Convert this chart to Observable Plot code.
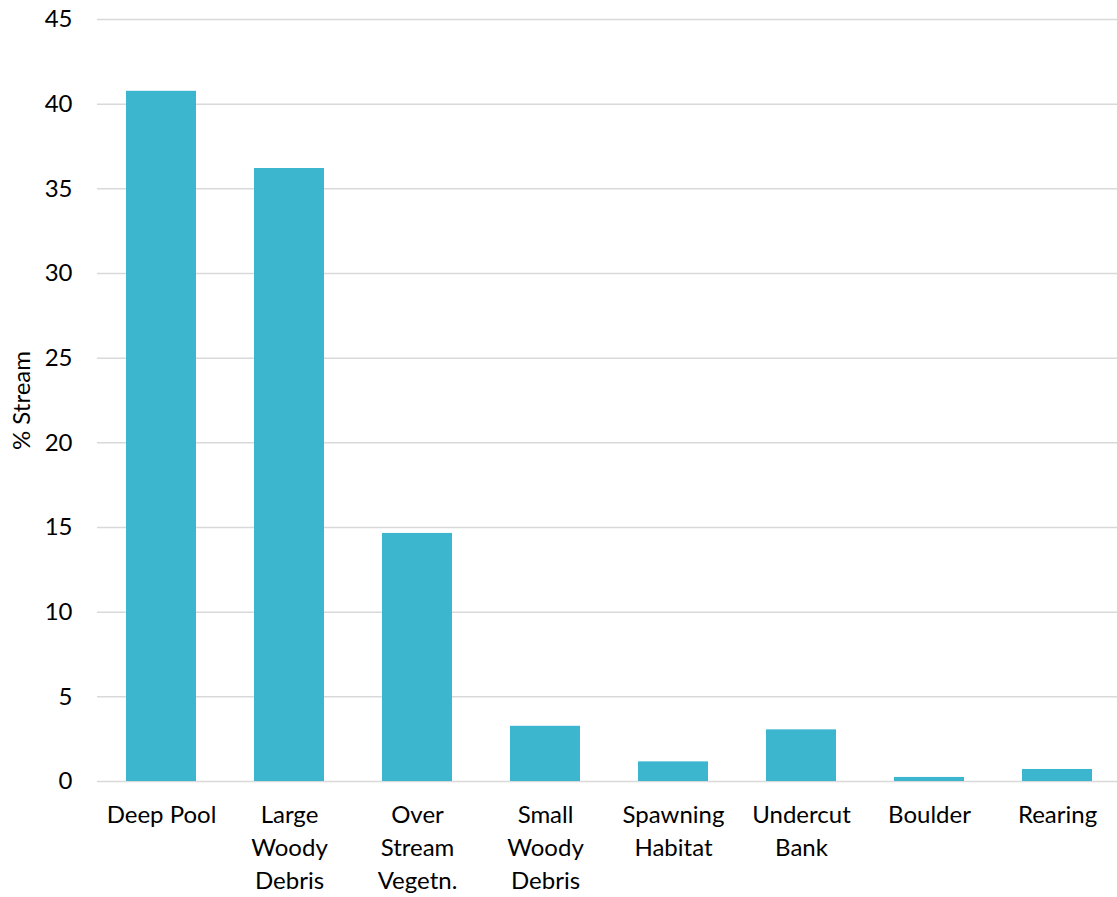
<!DOCTYPE html>
<html>
<head>
<meta charset="utf-8">
<script src="https://cdn.jsdelivr.net/npm/d3@7"></script>
<script src="https://cdn.jsdelivr.net/npm/@observablehq/plot@0.6"></script>
<style>
  html, body { margin: 0; padding: 0; background: #fff; overflow: hidden; }
  #chart svg { display: block; }
</style>
</head>
<body>
<div id="chart"></div>
<script>
const categories = ["Deep Pool", "Large Woody Debris", "Over Stream Vegetn.", "Small Woody Debris", "Spawning Habitat", "Undercut Bank", "Boulder", "Rearing"];
const tickLabels = ["Deep Pool", "Large\nWoody\nDebris", "Over\nStream\nVegetn.", "Small\nWoody\nDebris", "Spawning\nHabitat", "Undercut\nBank", "Boulder", "Rearing"];
const values = [40.76, 36.2, 14.65, 3.26, 1.16, 3.05, 0.24, 0.71];
const yTicks = [0, 5, 10, 15, 20, 25, 30, 35, 40, 45];

const data = categories.map((c, i) => ({category: c, value: values[i]}));
const labelOf = new Map(categories.map((c, i) => [c, tickLabels[i]]));

const chart = Plot.plot({
  width: 1117,
  height: 897,
  marginLeft: 97,
  marginRight: -4,
  marginTop: 19,
  marginBottom: 116,
  style: {fontFamily: "Lato, 'Open Sans', sans-serif", fontSize: "24px", color: "#000", background: "#fff", overflow: "hidden"},
  x: {domain: categories, paddingInner: 0.45, paddingOuter: 0.225, label: null},
  y: {domain: [0, 45], label: null},
  marks: [
    Plot.gridY(yTicks, {stroke: "#d9d9d9", strokeOpacity: 1, strokeWidth: 1.5}),
    Plot.barY(data, {x: "category", y: "value", fill: "#3cb6ce"}),
    Plot.axisY(yTicks, {tickSize: 0, tickPadding: 25, fontSize: 24, fill: "#000", label: null}),
    Plot.axisX({tickSize: 0, tickPadding: 18, fontSize: 24, fill: "#000", lineHeight: 1.375, tickFormat: d => labelOf.get(d), label: null}),
    Plot.text(["% Stream"], {frameAnchor: "left", textAnchor: "middle", dx: -75, rotate: -90, fontSize: 24, fill: "#000"})
  ]
});
document.getElementById("chart").append(chart);
</script>
</body>
</html>
